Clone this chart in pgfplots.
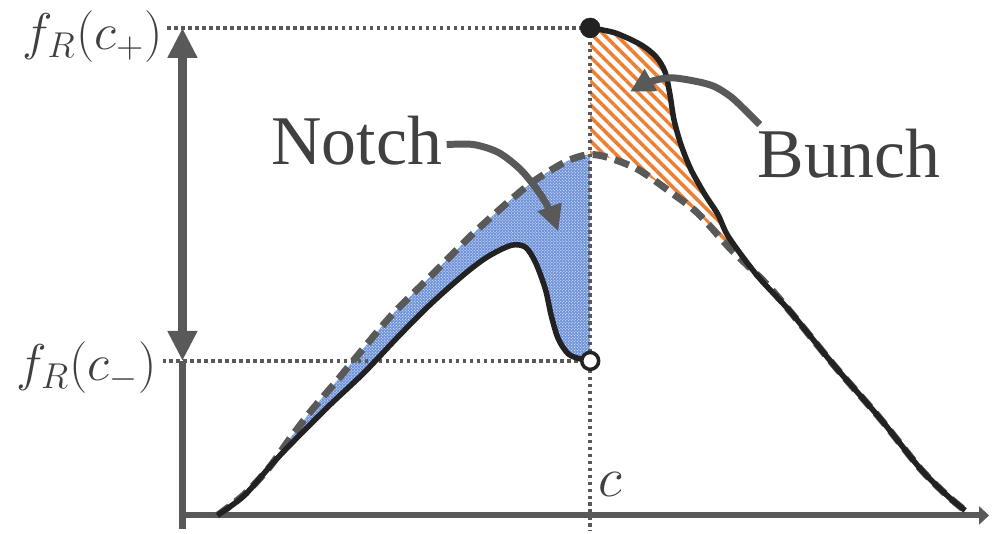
\documentclass[border=0pt]{standalone}
\usepackage{fontspec}
\setmainfont{Liberation Serif}
\usepackage{pgfplots}
\pgfplotsset{compat=1.18}
\usepackage{pgfplotstable}
\usepgfplotslibrary{fillbetween}
\usetikzlibrary{arrows.meta,patterns,patterns.meta}
\definecolor{axg}{RGB}{89,89,89}
\definecolor{crv}{RGB}{34,34,34}
\definecolor{txt}{RGB}{64,64,64}
\definecolor{hatch}{RGB}{237,125,49}
\definecolor{bluef}{RGB}{112,148,218}

% reference curve (dashed)
\pgfplotstableread{
x y
218 517
245 496
270 469
290 441
313 411
337 383
360 355
393 316
433 276
477 232
527 188
557 168
575 159
592 155
610 158
640 170
673 193
700 214
733 250
767 283
793 313
837 367
883 420
923 470
950 497
968 512
}\refcurve

% left part of perturbed curve
\pgfplotstableread{
x y
218 517
245 497
275 463
300 437
330 407
365 374
400 337
433 304
467 274
490 257
513 246
527 248
537 263
547 290
553 317
560 340
570 355
582 360
592 362
}\leftcurve

% right part of perturbed curve
\pgfplotstableread{
x y
592 28
617 33
643 45
658 57
667 72
672 95
676 120
683 145
693 170
707 195
720 215
731 238
760 277
793 313
837 367
883 420
923 470
950 497
968 512
}\rightcurve

\begin{document}
\begin{tikzpicture}
\begin{axis}[width=992pt,height=533pt,scale only axis,
  xmin=0,xmax=992,ymin=0,ymax=533,y dir=reverse,hide axis,clip=false]
\addplot[draw=none] coordinates {(0,0) (992,533)};

\addplot[draw=none,name path=D,smooth] table {\refcurve};
\addplot[draw=none,name path=L,smooth] table {\leftcurve};
\addplot[draw=none,name path=R,smooth] table {\rightcurve};

% fills
\addplot[fill=bluef,draw=none] fill between[of=D and L, soft clip={domain=218:592}];
\addplot[pattern=crosshatch dots,pattern color=white,draw=none] fill between[of=D and L, soft clip={domain=218:592}];
\addplot[pattern={Lines[angle=-45,distance=8.5pt,line width=3.5pt]},pattern color=hatch,draw=none] fill between[of=R and D, soft clip={domain=592:731}];

% dotted guides
\addplot[axg,line width=3.5pt,dash pattern=on 3.5pt off 3.5pt] coordinates {(168,28) (592,28)};
\addplot[axg,line width=3.5pt,dash pattern=on 3.5pt off 3.5pt] coordinates {(163,362) (592,362)};
\addplot[axg,line width=3.5pt,dash pattern=on 3.5pt off 3.5pt] coordinates {(592,28) (592,533)};

% axes
\addplot[axg,line width=6pt,-{Triangle[length=10pt,width=18pt]}] coordinates {(180,517) (992,517)};
\addplot[axg,line width=7pt] coordinates {(183,362) (183,531)};
\addplot[axg,line width=8.5pt,{Triangle[length=30pt,width=28pt]}-{Triangle[length=30pt,width=28pt]}] coordinates {(183,362) (183,28)};

% curves
\addplot[axg,line width=7pt,smooth,dash pattern=on 15pt off 8pt] table {\refcurve};
\addplot[crv,line width=5.5pt,smooth] table {\leftcurve};
\addplot[crv,line width=5.5pt,smooth] table {\rightcurve};

% end points
\addplot[only marks,mark=*,mark size=10pt,color=crv] coordinates {(592,28)};
\addplot[only marks,mark=*,mark size=8.5pt,mark options={draw=crv,fill=white,line width=3.5pt}] coordinates {(592,362)};

% annotation arrows
\addplot[axg,line width=7pt,smooth,-{Triangle[length=26pt,width=24pt]}] coordinates {(448,145) (475,145) (500,153) (522,170) (540,192) (552,212) (560,232)};
\addplot[axg,line width=7pt,smooth,-{Triangle[length=24pt,width=24pt]}] coordinates {(762,125) (747,110) (733,97) (717,87) (700,82) (673,78) (652,82) (632,92)};

% labels
\node[anchor=base west,text=txt,font=\fontsize{70}{80}\selectfont,inner sep=0pt] at (axis cs:272,165) {Notch};
\node[anchor=base west,text=txt,font=\fontsize{70}{80}\selectfont,inner sep=0pt] at (axis cs:760,178) {Bunch};
\node[anchor=base east,text=txt,font=\fontsize{20.74}{24}\selectfont,inner sep=0pt,scale=2.5] at (axis cs:164,50) {$f_R(c_+)$};
\node[anchor=base east,text=txt,font=\fontsize{20.74}{24}\selectfont,inner sep=0pt,scale=2.5] at (axis cs:158,382) {$f_R(c_-)$};
\node[anchor=base west,text=txt,font=\fontsize{20.74}{24}\selectfont,inner sep=0pt,scale=2.7] at (axis cs:600,498) {$c$};
\end{axis}
\end{tikzpicture}
\end{document}
